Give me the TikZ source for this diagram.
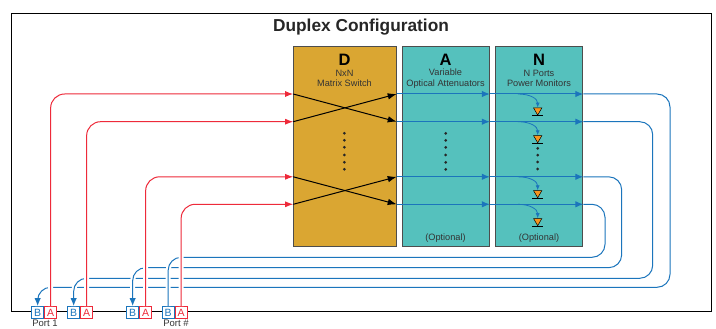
\documentclass[tikz,border=0pt]{standalone}
\usepackage{fontspec}
\setmainfont{Liberation Sans}
\usetikzlibrary{arrows.meta,shapes.geometric,calc}
\definecolor{rd}{HTML}{EE2A3A}
\definecolor{bl}{HTML}{1B75BC}
\definecolor{gold}{HTML}{DAA632}
\definecolor{teal1}{HTML}{55C1BD}
\definecolor{edge}{HTML}{4D4D4D}
\definecolor{tx}{HTML}{333333}
\definecolor{org}{HTML}{F7941E}
\tikzset{
 stage/.style={draw=edge,line width=1pt,inner sep=0,anchor=north west,minimum height=200pt},
 sub/.style={font=\fontsize{9.2}{10.3}\selectfont,text=tx,align=center,inner sep=0},
 portlabel/.style={font=\fontsize{9.5}{10}\selectfont,text=tx,inner sep=0,anchor=base},
 head/.style={font=\bfseries\fontsize{16.5}{18}\selectfont,inner sep=0},
 portb/.style={draw=bl,fill=white,line width=1pt,text=bl,minimum width=12.3pt,minimum height=12.3pt,inner sep=0,font=\fontsize{10.5}{10}\selectfont,anchor=north west},
 porta/.style={portb,draw=rd,text=rd},
 halo/.style={draw=white,line width=5pt},
 redline/.style={draw=rd,line width=1pt,-{Latex[length=8pt,width=6pt]}},
 blueline/.style={draw=bl,line width=1pt},
 bluearrow/.style={blueline,-{Latex[length=8pt,width=6.5pt]}},
 blk/.style={draw=black,line width=1pt,-{Latex[length=9pt,width=6.5pt]}},
 tap/.style={draw=bl,line width=.8pt,-{Latex[length=5pt,width=4pt]}},
 pdiode/.style={regular polygon,regular polygon sides=3,shape border rotate=180,draw=black,line width=.5pt,fill=org,minimum size=9.6pt,inner sep=0},
 ddot/.style={fill=black!85,circle,inner sep=0,minimum size=3pt},
}
\begin{document}
\begin{tikzpicture}[x=1pt,y=-1pt]
\useasboundingbox (0,0) rectangle (716,329);
\node[draw=black,line width=1pt,anchor=north west,inner sep=0,minimum width=700pt,minimum height=298pt] (frame) at (11,13) {};
\node[font=\bfseries\fontsize{17.3}{20}\selectfont,text=black!85,inner sep=0] (title) at (361,27) {Duplex Configuration};
% stage boxes
\node[stage,fill=gold,minimum width=102.5pt] (D) at (293.2,46) {};
\node[stage,fill=teal1,minimum width=87pt] (A) at (401.8,46) {};
\node[stage,fill=teal1,minimum width=87pt] (N) at (495.3,46) {};
\node[head] (dh) at (344.5,60) {D};
\node[head] (ah) at (445.5,60) {A};
\node[head] (nh) at (539,60) {N};
\node[sub] (ds) at (344.5,78.5) {NxN\\Matrix Switch};
\node[sub] (as) at (445.5,78.5) {Variable\\Optical Attenuators};
\node[sub] (ns) at (539,78.5) {N Ports\\Power Monitors};
\node[sub] (ao) at (445.5,238.5) {(Optional)};
\node[sub] (no) at (539,238.5) {(Optional)};
% ports
\node[portb] (b1) at (31,306) {B};
\node[porta] (a1) at (44,306) {A};
\node[portb] (b2) at (67,306) {B};
\node[porta] (a2) at (80,306) {A};
\node[portb] (b3) at (126,306) {B};
\node[porta] (a3) at (139,306) {A};
\node[portb] (b4) at (161.5,306) {B};
\node[porta] (a4) at (174.5,306) {A};
\node[portlabel] (p1) at (45,326.5) {Port 1};
\node[portlabel] (p4) at (176,326.5) {Port \#};
% named anchors on the stage edges
\foreach \n/\y in {1/94,2/121.7,3/176.8,4/204.3}{
 \coordinate (dl\n) at (D.west |- 0,\y);
 \coordinate (dr\n) at (D.east |- 0,\y);
 \coordinate (ar\n) at (A.east |- 0,\y);
 \coordinate (nr\n) at (N.east |- 0,\y);
 \coordinate (tp\n) at (518,\y);
}
\coordinate (c1) at (670,287.3);
\coordinate (c2) at (652.7,278.3);
\coordinate (c3) at (621.7,267.7);
\coordinate (c4) at (605,257.3);
% return fibres, outermost first, each breaking the ones beneath it
\foreach \n in {1,2,3,4}{
 \draw[halo,rounded corners=13pt] (nr\n) -| (c\n) -| (b\n.north);
 \ifnum\n<4
 \draw[bluearrow,rounded corners=13pt] (nr\n) -| (c\n) -| (b\n.north);
 \else
 \draw[blueline,rounded corners=13pt] (nr\n) -| (c\n) -| (b\n.north);
 \fi
}
% inputs
\foreach \n in {1,2,3,4}{
 \draw[halo,rounded corners=14pt,shorten >=8pt] (a\n.north) |- (dl\n);
 \draw[redline,rounded corners=14pt] (a\n.north) |- (dl\n);
}
% switch crossings
\draw[blk] (dl1) -- (dr2);
\draw[blk] (dl2) -- (dr1);
\draw[blk] (dl3) -- (dr4);
\draw[blk] (dl4) -- (dr3);
% through lines
\foreach \n in {1,2,3,4}{
 \draw[bluearrow] (dr\n) -- (ar\n);
 \draw[bluearrow] (ar\n) -- (nr\n);
}
% monitors
\foreach \n/\y in {1/110.3,2/138,3/193,4/220.9}{
 \node[pdiode] (pd\n) at (537.7,\y) {};
 \draw[line width=.9pt,black] ([xshift=-5.5pt]pd\n.corner 1) -- ([xshift=5.5pt]pd\n.corner 1);
 \draw[tap] (tp\n) .. controls ($(tp\n)+(12,0)$) and ($(pd\n.north)+(0,-9)$) .. (pd\n.north);
}
% ellipses
\foreach \y [count=\i] in {133.3,140.3,147.3,155,162.3,169.3}{
 \node[ddot] (dd\i) at (344.3,\y) {};
 \node[ddot] (ad\i) at (445.7,\y) {};
}
\foreach \y [count=\i] in {148.3,155.2,162,169}{
 \node[ddot] (nd\i) at (537.7,\y) {};
}
\end{tikzpicture}
\end{document}
